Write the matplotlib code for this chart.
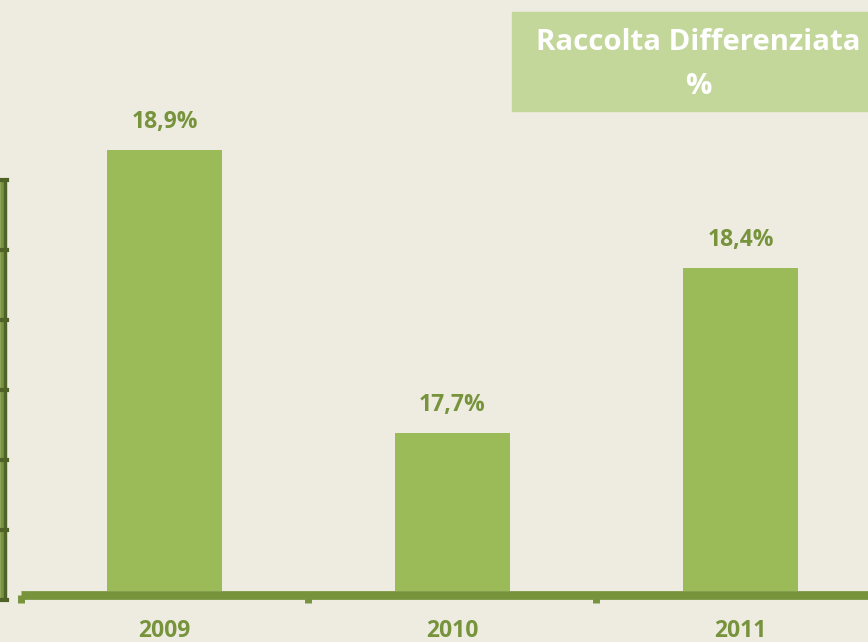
import matplotlib
matplotlib.use("Agg")
import matplotlib.pyplot as plt
import numpy as np

# Data
years = ["2009", "2010", "2011"]
values = [18.9, 17.7, 18.4]
labels = ["18,9%", "17,7%", "18,4%"]
title_lines = ["Raccolta Differenziata", "%"]

BG = "#EEECE1"
BAR = "#9BBB59"
TXT = "#77933C"
DARK = "#4F6228"
BOX = "#C4D79B"

plt.rcParams['font.family'] = ['Open Sans', 'DejaVu Sans']

fig = plt.figure(figsize=(8.68, 6.42), dpi=100, facecolor=BG)
ax = fig.add_axes([0, 0, 1, 1])
ax.set_facecolor(BG)
for s in ax.spines.values():
    s.set_visible(False)
ax.set_xticks([]); ax.set_yticks([])

ymin = 17.03
ppu = 235.8  # pixels per unit
ax.set_xlim(-164.5 / 288, (868 - 164.5) / 288)
ax.set_ylim(ymin - 51 / ppu, ymin + 591 / ppu)

x = np.arange(len(years))
heights = [v - ymin for v in values]
ax.bar(x, heights, width=0.4, bottom=ymin, color=BAR, zorder=2)

for xi, v, lab in zip(x, values, labels):
    ax.annotate(lab, (xi, v), xytext=(0, 20), textcoords="offset points",
                ha="center", va="center", fontsize=16.5, fontweight="bold", color=TXT)

# Category axis (floor line)
yline = ymin - 4.5 / ppu
ax.plot([-0.5, 3.0], [yline, yline], color=TXT, lw=6.3, solid_capstyle="butt", zorder=3)
for tx in [-0.5, 0.5, 1.5]:
    ax.plot([tx, tx], [yline, ymin - 12 / ppu], color=TXT, lw=5, solid_capstyle="butt", zorder=3)
for xi, yr in zip(x, years):
    ax.text(xi, ymin - 40 / ppu, yr, ha="center", va="center", fontsize=16.5,
            fontweight="bold", color=TXT)

# Value axis (left wall edge)
step = 0.297
ytop = ymin + 6 * step - 9 / ppu
ybot = ymin - 9 / ppu
xa = (5 - 164.5) / 288
xb = (1.5 - 164.5) / 288
ax.plot([xa, xa], [ybot, ytop], color=DARK, lw=3.2, solid_capstyle="butt", zorder=3)
ax.plot([xb, xb], [ybot, ytop], color=TXT, lw=2.6, solid_capstyle="butt", zorder=3)
for k in range(7):
    yt = ybot + k * step
    ax.plot([(0 - 164.5) / 288, (7 - 164.5) / 288], [yt, yt], color=DARK, lw=3, zorder=4)

# Title box
fig.patches.append(plt.Rectangle((512 / 868, 1 - 111 / 642), 400 / 868, 99 / 642,
                                 transform=fig.transFigure, color=BOX, zorder=5))
fig.text(536 / 868, 1 - 43 / 642, title_lines[0], ha="left", va="center",
         fontsize=21.2, fontweight="bold", color="white", zorder=6)
fig.text(698 / 868, 1 - 87 / 642, title_lines[1], ha="center", va="center",
         fontsize=21.2, fontweight="bold", color="white", zorder=6)

fig.savefig("out.png", dpi=100, facecolor=BG)
